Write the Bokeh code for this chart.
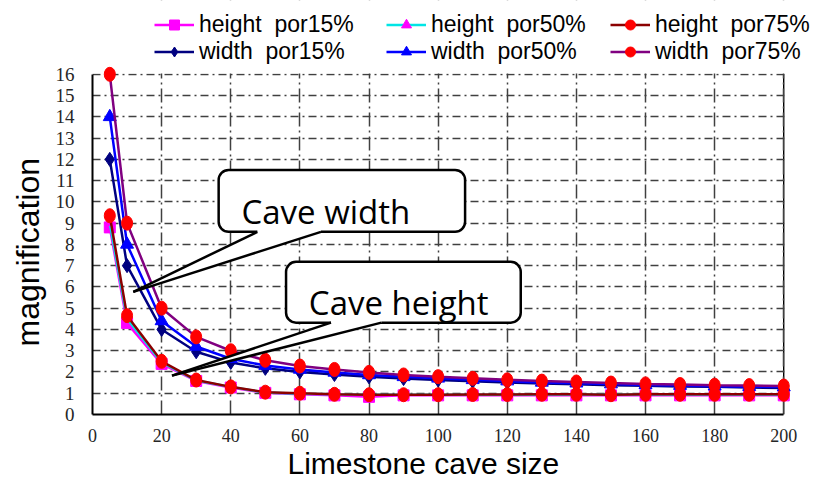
from bokeh.plotting import figure
from bokeh.models import (Range1d, SingleIntervalTicker, Legend, LegendItem,
                          BoxAnnotation, Label, Title)
from bokeh.embed import file_html
from bokeh.resources import INLINE

# ---------------- data ----------------
cave_size = [5, 10, 20, 30, 40, 50, 60, 70, 80, 90, 100, 110, 120, 130, 140,
             150, 160, 170, 180, 190, 200]
height_por15 = [8.8, 4.3, 2.38, 1.58, 1.27, 1.02, 0.95, 0.9, 0.83, 0.9, 0.9,
                0.9, 0.9, 0.9, 0.9, 0.9, 0.9, 0.9, 0.9, 0.9, 0.9]
height_por50 = [9.0, 4.5, 2.45, 1.6, 1.3, 1.03, 0.98, 0.95, 0.93, 0.93, 0.93,
                0.93, 0.93, 0.94, 0.94, 0.94, 0.94, 0.94, 0.94, 0.94, 0.94]
height_por75 = [9.35, 4.65, 2.5, 1.62, 1.3, 1.05, 1.0, 0.95, 0.93, 0.93, 0.93,
                0.94, 0.94, 0.95, 0.95, 0.93, 0.95, 0.95, 0.95, 0.95, 0.95]
width_por15 = [12.0, 7.0, 4.0, 2.95, 2.45, 2.17, 2.0, 1.88, 1.77, 1.69, 1.62,
               1.56, 1.51, 1.46, 1.42, 1.38, 1.35, 1.32, 1.3, 1.27, 1.25]
width_por50 = [14.0, 8.0, 4.4, 3.2, 2.62, 2.3, 2.12, 1.98, 1.86, 1.77, 1.7,
               1.63, 1.57, 1.51, 1.47, 1.43, 1.39, 1.36, 1.33, 1.31, 1.29]
width_por75 = [16.0, 9.0, 5.0, 3.65, 3.0, 2.55, 2.28, 2.12, 1.98, 1.86, 1.78,
               1.7, 1.63, 1.57, 1.53, 1.48, 1.44, 1.41, 1.38, 1.36, 1.34]

x_label = "Limestone cave size"
y_label = "magnification"
callout_width_text = "Cave width"
callout_height_text = "Cave height"

X_MAX, Y_MAX = 200, 16      # extent of the axes
X_RIGHT, Y_TOP = 210.63, 19.472  # frame extends past them to hold the legend

# ---------------- figure ----------------
p = figure(width=820, height=479, output_backend="svg", toolbar_location=None,
           x_range=Range1d(0, X_RIGHT), y_range=Range1d(0, Y_TOP),
           min_border_left=87, min_border_right=0, min_border_top=0,
           min_border_bottom=64)
p.outline_line_color = None
p.background_fill_color = "white"
p.border_fill_color = "white"

p.xaxis.ticker = SingleIntervalTicker(interval=20)
p.yaxis.ticker = SingleIntervalTicker(interval=1)
p.xaxis.bounds = (0, X_MAX)
p.yaxis.bounds = (0, Y_MAX)
for ax in (p.xaxis, p.yaxis):
    ax.axis_line_color = "black"
    ax.axis_line_width = 2
    ax.major_tick_line_color = None
    ax.minor_tick_line_color = None
    ax.major_label_text_font = "Liberation Serif"
    ax.major_label_text_color = "#262626"
p.xaxis.major_label_text_font_size = "18px"
p.yaxis.major_label_text_font_size = "19px"
p.xaxis.major_label_standoff = 8
p.yaxis.major_label_standoff = 12

p.add_layout(Title(text=x_label, align="left", offset=195, standoff=0,
                   text_font="Liberation Sans", text_font_size="30px",
                   text_font_style="normal", text_color="black"), "below")
p.add_layout(Title(text=y_label, align="left", offset=68, standoff=14,
                   text_font="Liberation Sans", text_font_size="32px",
                   text_font_style="normal", text_color="black"), "left")

p.xgrid.grid_line_color = "#404040"
p.xgrid.grid_line_width = 1.5
p.xgrid.grid_line_dash = "14 4 2 4"
p.ygrid.grid_line_color = "#404040"
p.ygrid.grid_line_width = 1.5
p.ygrid.grid_line_dash = "8 4 2 4"

# white covers over the legend zone and right margin (hide grid beyond axes)
p.add_layout(BoxAnnotation(bottom=Y_MAX + 0.04, fill_color="white",
                           fill_alpha=1.0, line_color=None, level="underlay"))
p.add_layout(BoxAnnotation(left=X_MAX + 0.3, fill_color="white",
                           fill_alpha=1.0, line_color=None, level="underlay"))
# solid right edge of the chart area
p.segment(x0=[X_MAX], y0=[0], x1=[X_MAX], y1=[Y_MAX], line_color="black",
          line_width=1.5, level="underlay")

# ---------------- series ----------------
LW = 2.5
r_h15_l = p.line(cave_size, height_por15, line_color="#ff00ff", line_width=LW)
r_h15_m = p.scatter(cave_size, height_por15, marker="square", size=11,
                    fill_color="#ff00ff", line_color="#ff00ff")
r_h50_l = p.line(cave_size, height_por50, line_color="#00e5e5", line_width=LW)
r_h50_m = p.scatter(cave_size, height_por50, marker="triangle", size=8,
                    fill_color="#ff00ff", line_color="#ff00ff")
r_w15_l = p.line(cave_size, width_por15, line_color="#000080", line_width=LW)
r_w15_m = p.scatter(cave_size, width_por15, marker="diamond", size=14,
                    fill_color="#000080", line_color="#000080")
r_w50_l = p.line(cave_size, width_por50, line_color="#0000ff", line_width=LW)
r_w50_m = p.scatter(cave_size, width_por50, marker="triangle", size=13,
                    fill_color="#0000ff", line_color="#0000ff")
r_h75_l = p.line(cave_size, height_por75, line_color="#8b0000", line_width=LW)
p.ellipse(cave_size, height_por75, width=11, height=14, width_units="screen",
          height_units="screen", fill_color="#ff0000", line_color="#ff0000")
r_h75_m = p.scatter(cave_size, height_por75, marker="circle", size=10,
                    fill_color="#ff0000", line_color="#ff0000", visible=False)
r_w75_l = p.line(cave_size, width_por75, line_color="#800080", line_width=LW)
p.ellipse(cave_size, width_por75, width=11, height=14, width_units="screen",
          height_units="screen", fill_color="#ff0000", line_color="#ff0000")
r_w75_m = p.scatter(cave_size, width_por75, marker="circle", size=10,
                    fill_color="#ff0000", line_color="#ff0000", visible=False)

# ---------------- legend: three columns of two entries ----------------
legend_cols = [
    [("height  por15%", [r_h15_l, r_h15_m]), ("width  por15%", [r_w15_l, r_w15_m])],
    [("height  por50%", [r_h50_l, r_h50_m]), ("width  por50%", [r_w50_l, r_w50_m])],
    [("height  por75%", [r_h75_l, r_h75_m]), ("width  por75%", [r_w75_l, r_w75_m])],
]
legend_x = [62, 294, 518]
for col, lx in zip(legend_cols, legend_x):
    leg = Legend(items=[LegendItem(label=t, renderers=r) for t, r in col],
                 location=(lx, 349), orientation="vertical",
                 padding=0, margin=0, spacing=0,
                 glyph_width=40, glyph_height=25, label_height=25,
                 label_standoff=5, label_text_font="Liberation Sans",
                 label_text_font_size="23px", label_text_color="black",
                 border_line_color=None, background_fill_alpha=0)
    p.add_layout(leg, "center")

# ---------------- callouts ----------------
def callout(left, right, top, bottom, base_l, base_r, tip_x, tip_y):
    p.add_layout(BoxAnnotation(left=left, right=right, top=top, bottom=bottom,
                               fill_color="white", fill_alpha=1.0,
                               line_color="black", line_alpha=1.0,
                               line_width=2.5, border_radius=10))
    eps = 0.25
    p.patch([base_l, base_l, tip_x, base_r, base_r],
            [bottom + eps, bottom, tip_y, bottom, bottom + eps],
            fill_color="white", line_color=None, level="overlay")
    p.segment([base_l, base_r], [bottom, bottom], [tip_x, tip_x], [tip_y, tip_y],
              line_color="black", line_width=2.5, level="overlay")

callout(36.5, 107.8, 11.5, 8.59, 47.7, 66.1, 11.8, 5.77)
callout(56.0, 123.9, 7.18, 4.32, 69.0, 83.6, 23.0, 1.83)

p.add_layout(Label(x=43.1, y=9.53, text=callout_width_text,
                   text_font="Open Sans", text_font_size="33px",
                   text_color="black", text_baseline="alphabetic"))
p.add_layout(Label(x=62.6, y=5.26, text=callout_height_text,
                   text_font="Open Sans", text_font_size="33px",
                   text_color="black", text_baseline="alphabetic"))

open("out.html", "w").write(file_html(p, INLINE))
